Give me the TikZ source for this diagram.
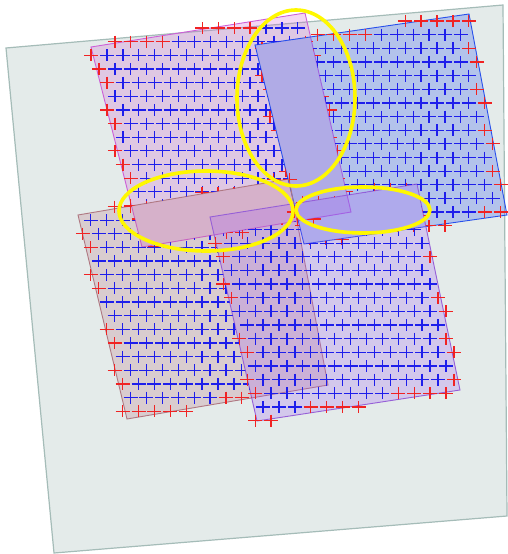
\documentclass[tikz,border=0pt]{standalone}
\usepackage{xcolor}
\usepackage{tikz}
\usetikzlibrary{calc}

\definecolor{bgfill}{RGB}{228,235,234}
\definecolor{bgline}{RGB}{165,188,184}
\definecolor{pinkfill}{RGB}{212,96,210}
\definecolor{pinkline}{RGB}{205,95,215}
\definecolor{bluefill}{RGB}{68,105,240}
\definecolor{blueline}{RGB}{40,80,235}
\definecolor{rosefill}{RGB}{188,112,130}
\definecolor{roseline}{RGB}{175,120,130}
\definecolor{violetfill}{RGB}{164,96,242}
\definecolor{violetline}{RGB}{150,95,215}
\definecolor{ptblue}{RGB}{30,30,235}
\definecolor{ptred}{RGB}{240,35,35}
\definecolor{ringyellow}{RGB}{255,248,0}

% corners of a patch: prefix, then TL TR BR BL in pixels
\newcommand{\quadat}[9]{%
  \coordinate (#1TL) at (#2,#3);
  \coordinate (#1TR) at (#4,#5);
  \coordinate (#1BR) at (#6,#7);
  \coordinate (#1BL) at (#8,#9);
  \expandafter\xdef\csname corners#1\endcsname{\noexpand\setcorners{#2}{#3}{#4}{#5}{#6}{#7}{#8}{#9}}}
\newcommand{\setcorners}[8]{\def\qax{#1}\def\qay{#2}\def\qbx{#3}\def\qby{#4}\def\qcx{#5}\def\qcy{#6}\def\qdx{#7}\def\qdy{#8}}

% signed distance of (#6,#7) to the edge (#2,#3)--(#4,#5)
\newcommand{\edgedist}[7]{%
  \pgfmathsetmacro\elen{100*veclen((#4-#2)/100,(#5-#3)/100)}%
  \pgfmathsetmacro#1{(#4-#2)/\elen*(#7-#3)-(#5-#3)/\elen*(#6-#2)}}

% everything outside a region (box runs the other way round)
\newcommand{\outside}{(0,0) -- (0,554) -- (508,554) -- (508,0) -- cycle}

% staggered point grid of a patch: prefix, x0, y0, columns, rows
\newcommand{\drawgrid}[5]{%
  \csname corners#1\endcsname
  \foreach \j in {0,...,#5}{
    \foreach \i in {0,...,#4}{
      \pgfmathsetmacro\px{#2+15.9*\i+7.95*mod(\j,2)}
      \pgfmathsetmacro\py{#3+13.65*\j}
      \edgedist\da\qax\qay\qbx\qby\px\py
      \edgedist\db\qbx\qby\qcx\qcy\px\py
      \edgedist\dc\qcx\qcy\qdx\qdy\px\py
      \edgedist\dd\qdx\qdy\qax\qay\px\py
      \pgfmathsetmacro\dmin{min(\da,\db,\dc,\dd)}
      \ifdim\dmin pt>-2.5pt
        \ifdim\dmin pt<7pt \def\pc{ptred}\else\def\pc{ptblue}\fi
        \draw[ptmark, color=\pc] (\px,\py) +(-7,0) -- +(7,0) +(0,-6) -- +(0,6);
      \fi
    }
  }
}

\begin{document}
\begin{tikzpicture}[x=1pt, y=-1pt]
        % Styles
        \tikzstyle{sheet} = [draw=bgline, fill=bgfill, line width=1.2pt]
        \tikzstyle{patch} = [line width=0.9pt, fill opacity=0.25]
        \tikzstyle{ptmark} = [line width=1.25pt]
        \tikzstyle{ring} = [draw=ringyellow, line width=3.6pt]

        \useasboundingbox (0,0) rectangle (508,554);

        % Corners
        \quadat{a}{91}{47}{305}{13}{351}{212}{142}{247}
        \quadat{b}{255}{45}{469}{14}{507}{215}{304}{244}
        \quadat{c}{78}{215}{289}{179}{328}{385}{127}{419}
        \quadat{d}{210}{217}{417}{184}{460}{390}{257}{421}
        \coordinate (ab1) at (intersection of aTR--aBR and bTL--bTR);
        \coordinate (ab2) at (intersection of aBL--aBR and bTL--bBL);
        \coordinate (ac1) at (intersection of aTL--aBL and cTL--cTR);
        \coordinate (ac2) at (intersection of cTR--cBR and aBL--aBR);
        \coordinate (bd1) at (intersection of bTL--bBL and dTL--dTR);
        \coordinate (bd2) at (intersection of dTR--dBR and bBL--bBR);

        % Sheet
        \draw[sheet] (6,48) -- (503,5) -- (507,516) -- (54,553) -- cycle;

        % Patches
        \filldraw[patch, draw=pinkline, fill=pinkfill] (aTL) -- (aTR) -- (aBR) -- (aBL) -- cycle;
        \filldraw[patch, draw=blueline, fill=bluefill, fill opacity=0.3] (bTL) -- (bTR) -- (bBR) -- (bBL) -- cycle;
        \filldraw[patch, draw=roseline, fill=rosefill] (cTL) -- (cTR) -- (cBR) -- (cBL) -- cycle;
        \filldraw[patch, draw=violetline, fill=violetfill] (dTL) -- (dTR) -- (dBR) -- (dBL) -- cycle;

        % Points
        \begin{scope}
          \clip \outside (bTL) -- (ab1) -- (aBR) -- (ab2) -- cycle;
          \clip \outside (ac1) -- (cTR) -- (ac2) -- (aBL) -- cycle;
          \drawgrid{a}{75.2}{28}{18}{16}
        \end{scope}
        \begin{scope}
          \clip \outside (bTL) -- (ab1) -- (aBR) -- (ab2) -- cycle;
          \clip \outside (bd1) -- (dTR) -- (bd2) -- (bBL) -- cycle;
          \drawgrid{b}{246.2}{21}{17}{16}
        \end{scope}
        \begin{scope}
          \clip \outside (ac1) -- (cTR) -- (ac2) -- (aBL) -- cycle;
          \clip \outside (dTL) -- (dTR) -- (dBR) -- (dBL) -- cycle;
          \drawgrid{c}{66.95}{179.2}{17}{18}
        \end{scope}
        \begin{scope}
          \clip \outside (bd1) -- (dTR) -- (bd2) -- (bBL) -- cycle;
          \clip \outside (ac1) -- (cTR) -- (ac2) -- (aBL) -- cycle;
          \drawgrid{d}{191.55}{174.9}{18}{18}
        \end{scope}

        % Rings
        \draw[ring] (296,98) ellipse [x radius=59, y radius=88];
        \draw[ring] (206,211) ellipse [x radius=87, y radius=40];
        \draw[ring] (363,210) ellipse [x radius=67, y radius=23];
\end{tikzpicture}
\end{document}
